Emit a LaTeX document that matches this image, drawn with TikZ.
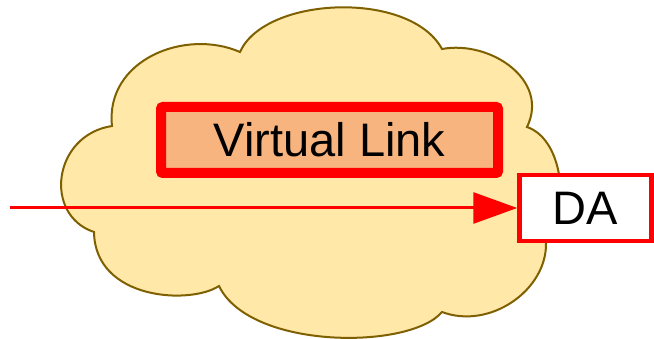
\documentclass[tikz,border=0pt]{standalone}
\usepackage{fontspec}
\setmainfont{Liberation Sans}
\usetikzlibrary{arrows.meta}
\definecolor{cloudfill}{RGB}{255,232,168}
\definecolor{cloudline}{RGB}{127,96,0}
\definecolor{vlfill}{RGB}{248,180,126}
\newcommand{\bigtext}{\fontsize{47}{51}\selectfont}

\begin{document}
\begin{tikzpicture}[x=1pt,y=-1pt]
\useasboundingbox (0,0) rectangle (654,339);

\coordinate (c1) at (112,126);
\coordinate (c2) at (240,52);
\coordinate (c3) at (442,49);
\coordinate (c4) at (527,127);
\coordinate (c5) at (546,243);
\coordinate (c6) at (442,312);
\coordinate (c7) at (219,286);
\coordinate (c8) at (94,232);
\draw [fill=cloudfill, draw=cloudline, line width=2pt]
  (c1) .. controls (105,60) and (185,28) .. (c2)
       .. controls (265,-4) and (410,-10) .. (c3)
       .. controls (490,40) and (550,80) .. (c4)
       .. controls (565,140) and (570,215) .. (c5)
       .. controls (547,290) and (490,330) .. (c6)
       .. controls (410,350) and (250,350) .. (c7)
       .. controls (190,305) and (95,300) .. (c8)
       .. controls (43,215) and (53,135) .. (c1) -- cycle;

\node[draw=red, fill=vlfill, line width=10pt, rounded corners=2pt,
      minimum width=337pt, minimum height=66pt, inner sep=0pt, font=\bigtext]
      (vl) at (329.5,140) {Virtual Link};
\node[draw=red, fill=white, line width=4.5pt,
      minimum width=132pt, minimum height=66pt, inner sep=0pt, font=\bigtext]
      (da) at (585.5,208) {DA};

\coordinate (src) at (10,208);
\draw [red, line width=3pt, -{Triangle[length=44pt,width=31pt]}] (src) -- (da.west);
\end{tikzpicture}
\end{document}
